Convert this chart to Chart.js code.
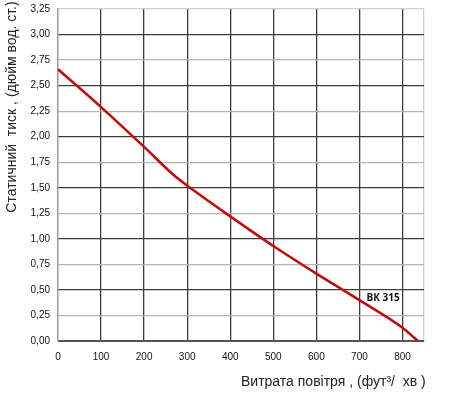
<!DOCTYPE html>
<html>
<head>
<meta charset="utf-8">
<script src="https://cdn.jsdelivr.net/npm/chart.js@4"></script>
<style>
  html, body { margin: 0; padding: 0; background: #fff; }
  canvas { display: block; }
</style>
</head>
<body>
<canvas id="chart" width="450" height="394"></canvas>
<script>
// air flow, cfm
const airflow = [0, 100, 200, 270, 310, 400, 500, 600, 700, 800, 836];
// static pressure, in. wg
const pressure = [2.66, 2.29, 1.90, 1.62, 1.49, 1.22, 0.93, 0.66, 0.40, 0.13, 0];
const xTicks = [0, 100, 200, 300, 400, 500, 600, 700, 800, 850];
const seriesName = 'ВК 315';
const labelPos = { x: 755, y: 0.42 };
const xTitle = 'Витрата повітря , (фут³/  хв )';
const yTitle = 'Статичний  тиск , (дюйм вод. ст.)';

const DARK = '#3c3c3c';
const MINOR = '#b4b4b4';
const EDGE = '#cfcfcf';

const titles = {
  id: 'titles',
  afterDraw(chart) {
    const c = chart.ctx;
    const xs = chart.scales.x, ys = chart.scales.y;
    c.save();
    c.fillStyle = '#222';
    c.font = '14px "Liberation Sans", Arial, sans-serif';
    c.textBaseline = 'middle';
    c.textAlign = 'left';
    c.fillText(xTitle, 241, 382);
    c.translate(12, 107);
    c.rotate(-Math.PI / 2);
    c.textAlign = 'center';
    c.fillText(yTitle, 0, 0);
    c.restore();

    c.save();
    c.fillStyle = '#111';
    c.font = 'bold 10px "Open Sans", sans-serif';
    c.textAlign = 'center';
    c.textBaseline = 'middle';
    c.fillText(seriesName, xs.getPixelForValue(labelPos.x), ys.getPixelForValue(labelPos.y));
    c.restore();
  }
};

new Chart(document.getElementById('chart'), {
  type: 'line',
  data: {
    datasets: [{
      label: seriesName,
      data: airflow.map((x, i) => ({ x: x, y: pressure[i] })),
      borderColor: '#c40a0a',
      borderWidth: 2.5,
      pointRadius: 0,
      cubicInterpolationMode: 'monotone',
      fill: false
    }]
  },
  options: {
    responsive: false,
    animation: false,
    devicePixelRatio: 1,
    layout: { padding: { top: 9, right: 26, left: 0, bottom: 0 } },
    plugins: { legend: { display: false }, tooltip: { enabled: false } },
    scales: {
      x: {
        type: 'linear',
        min: 0,
        max: 850,
        afterBuildTicks(s) { s.ticks = xTicks.map(v => ({ value: v })); },
        afterFit(s) { s.height = 53; s.paddingLeft = 0; s.paddingRight = 0; },
        border: { color: '#555', width: 1 },
        grid: {
          drawTicks: false,
          lineWidth: 1.3,
          color: (ctx) => {
            const v = ctx.tick && ctx.tick.value;
            if (v === 850) return EDGE;
            if (v === 0) return '#999';
            return DARK;
          }
        },
        ticks: {
          padding: 10,
          autoSkip: false,
          maxRotation: 0,
          color: '#111',
          font: { size: 10, family: '"Liberation Sans", Arial, sans-serif' },
          callback: (v) => (v === 850 ? '' : v)
        }
      },
      y: {
        min: 0,
        max: 3.25,
        afterFit(s) { s.width = 58; s.paddingTop = 0; s.paddingBottom = 0; },
        border: { color: '#999', width: 1.3 },
        grid: {
          drawTicks: false,
          lineWidth: 1.3,
          color: (ctx) => {
            const v = ctx.tick && ctx.tick.value;
            if (v === 3.25) return EDGE;
            if (v === 0) return '#555';
            return Math.abs(v * 2 - Math.round(v * 2)) < 1e-6 ? DARK : MINOR;
          }
        },
        ticks: {
          stepSize: 0.25,
          padding: 8,
          autoSkip: false,
          color: '#111',
          font: { size: 10, family: '"Liberation Sans", Arial, sans-serif' },
          callback: (v) => v.toFixed(2).replace('.', ',')
        }
      }
    }
  },
  plugins: [titles]
});
</script>
</body>
</html>
